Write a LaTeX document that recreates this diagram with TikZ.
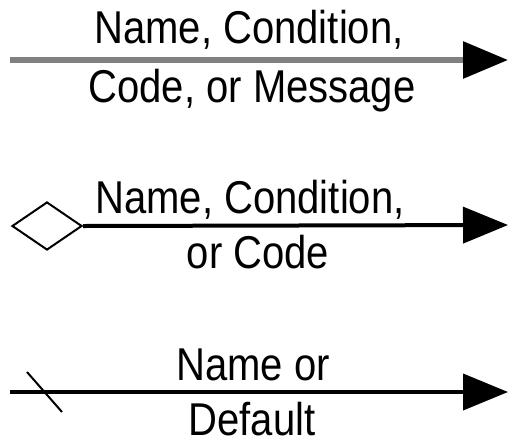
\documentclass[tikz,border=0pt]{standalone}
\usepackage{fontspec}
\setmainfont[FakeStretch=0.87]{Liberation Sans}
\usetikzlibrary{arrows.meta,shapes.geometric}

\begin{document}
\begin{tikzpicture}
[x=1pt,y=-1pt,
>={Triangle[length=45pt,width=36pt,color=black]},
wire/.style={line width=4pt,->},
graywire/.style={wire,line width=6pt,draw={rgb,255:red,128;green,128;blue,128}},
lbl/.style={anchor=base,inner sep=0pt,font=\fontsize{46}{50}\selectfont}]
  \useasboundingbox (0,0) rectangle (510,437);
  % gray flow
  \coordinate (s1) at (10,60);
  \coordinate (e1) at (508,60);
  \draw [graywire] (s1) -- (e1);
  \node [lbl] (top1) at (249,43) {Name, Condition,};
  \node [lbl] (bot1) at (252,102) {Code, or Message};
  % diamond flow
  \node [diamond,draw,line width=2pt,inner sep=0pt,minimum width=70pt,minimum height=48pt] (dia) at (47,226) {};
  \coordinate (e2) at (508,225);
  \draw [wire] (dia.east) -- (e2);
  \node [lbl] (top2) at (250,213) {Name, Condition,};
  \node [lbl] (bot2) at (258,268) {or Code};
  % default flow
  \coordinate (s3) at (10,392);
  \coordinate (e3) at (508,392);
  \draw [wire] (s3) -- (e3);
  \coordinate (t1) at (27,372);
  \coordinate (t2) at (62,412);
  \draw [line width=2pt] (t1) -- (t2);
  \node [lbl] (top3) at (253,380) {Name or};
  \node [lbl] (bot3) at (252,435) {Default};
\end{tikzpicture}
\end{document}
